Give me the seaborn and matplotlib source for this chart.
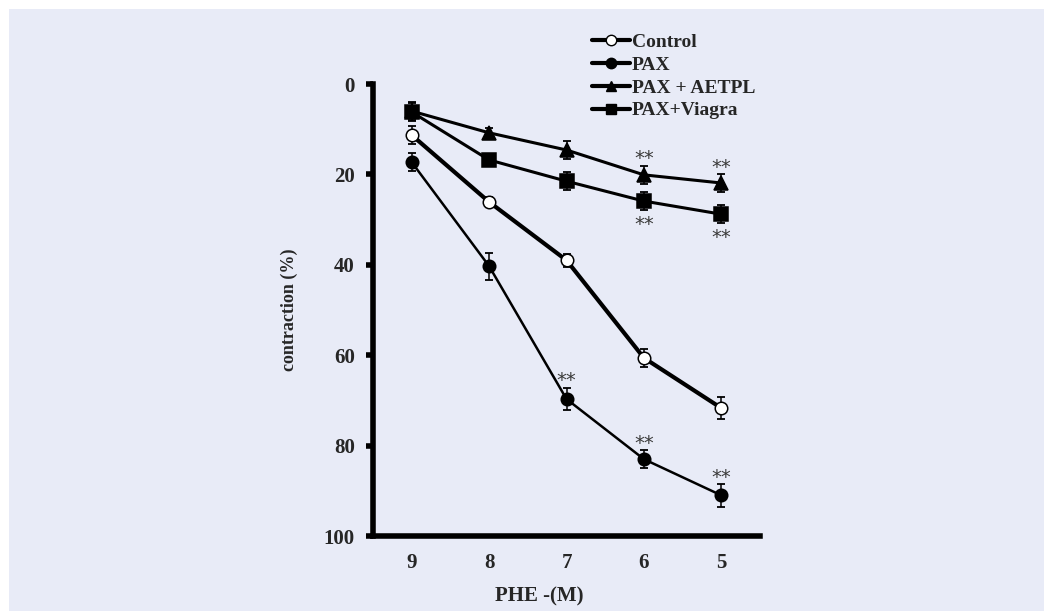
import numpy as np
import pandas as pd
import matplotlib
matplotlib.use("Agg")
import matplotlib.pyplot as plt
import seaborn as sns
from matplotlib.lines import Line2D
from matplotlib.patches import Rectangle

# data
doses = ["9", "8", "7", "6", "5"]
control = [11.3, 26.1, 39.0, 60.6, 71.7]
control_err = [2.0, 1.0, 1.5, 2.0, 2.5]
pax = [17.3, 40.3, 69.7, 83.0, 91.0]
pax_err = [2.0, 3.0, 2.5, 2.0, 2.5]
aetpl = [6.0, 10.8, 14.6, 20.1, 21.9]
aetpl_err = [2.0, 1.0, 2.0, 2.0, 2.0]
viagra = [6.2, 16.8, 21.5, 25.9, 28.8]
viagra_err = [2.0, 1.0, 2.0, 2.0, 2.0]

# dose indices carrying "**"
stars_pax = [2, 3, 4]
stars_aetpl = [3, 4]
stars_viagra = [3, 4]

BG = "#E8EBF7"
sns.set_theme(style="white")
plt.rcParams["font.family"] = ["Liberation Serif", "DejaVu Serif"]

x = np.arange(1, len(doses) + 1)
series = [
    ("Control", control, control_err, "o", "white", 3.0, 9),
    ("PAX", pax, pax_err, "o", "black", 1.8, 9),
    ("PAX + AETPL", aetpl, aetpl_err, "^", "black", 2.2, 10),
    ("PAX+Viagra", viagra, viagra_err, "s", "black", 2.2, 9.5),
]

fig = plt.figure(figsize=(10.44, 6.11), dpi=100, facecolor="white")
fig.patches.append(Rectangle((9 / 1044, 0), 1, 1 - 9 / 611, transform=fig.transFigure,
                             facecolor=BG, edgecolor="none", zorder=-10))
ax = fig.add_axes([0.3573, 0.1227, 0.3707, 0.7398])
ax.set_facecolor("none")

handles = []
for name, vals, err, mk, fc, lw, ms in series:
    df = pd.DataFrame({"x": x, "y": vals})
    ax.errorbar(x, vals, yerr=err, fmt="none", ecolor="black", elinewidth=1.1,
                capsize=2.8, capthick=1.3, zorder=2)
    sns.lineplot(data=df, x="x", y="y", ax=ax, color="black", linewidth=lw,
                 marker=mk, markersize=ms,
                 markerfacecolor=fc, markeredgecolor="black", markeredgewidth=1.1,
                 zorder=3, legend=False)
    handles.append(Line2D([], [], color="black", linewidth=3.0, marker=mk,
                          markersize=7.5, markerfacecolor=fc, markeredgecolor="black",
                          label=name))

star_kw = dict(ha="center", fontsize=14, color="#3a3a3a", family=["DejaVu Sans"],
               textcoords="offset points", va="baseline")
for i in stars_pax:
    ax.annotate("**", (x[i], pax[i] - pax_err[i]), xytext=(0, 1), **star_kw)
for i in stars_aetpl:
    ax.annotate("**", (x[i], aetpl[i] - aetpl_err[i]), xytext=(0, 1), **star_kw)
for i in stars_viagra:
    ax.annotate("**", (x[i], viagra[i] + viagra_err[i]), xytext=(0, -14), **star_kw)

ax.set_xlim(0.5, 5.5)
ax.set_ylim(100, 0)
ax.set_yticks([0, 20, 40, 60, 80, 100])
ax.set_xticks(x)
ax.set_xticklabels(doses)
ax.set_xticks(np.arange(0.5, 6.0, 1.0), minor=True)
ax.tick_params(axis="x", which="major", length=0, pad=12, labelsize=15)
ax.tick_params(axis="x", which="minor", direction="out", length=5, width=4, color="black")
ax.tick_params(axis="y", which="major", direction="out", length=5, width=4,
               color="black", labelsize=15, pad=8, left=True)
for lab in ax.get_xticklabels() + ax.get_yticklabels():
    lab.set_fontweight("bold")

for side in ["top", "right"]:
    ax.spines[side].set_visible(False)
for side in ["left", "bottom"]:
    ax.spines[side].set_color("black")
    ax.spines[side].set_linewidth(4)

ax.set_xlabel("PHE -(M)", fontsize=15, fontweight="bold")
ax.xaxis.set_label_coords(0.43, -0.112)
ax.set_ylabel("contraction (%)", fontsize=13, fontweight="bold")
ax.yaxis.set_label_coords(-0.194, 0.5)

fig.legend(handles=handles, loc="upper left", bbox_to_anchor=(0.5635, 0.952),
           frameon=False, handlelength=1.95, handletextpad=0.1, labelspacing=0.27,
           borderaxespad=0, borderpad=0.2,
           prop={"weight": "bold", "size": 14, "family": "Liberation Serif"})

fig.savefig("out.png", dpi=100)
